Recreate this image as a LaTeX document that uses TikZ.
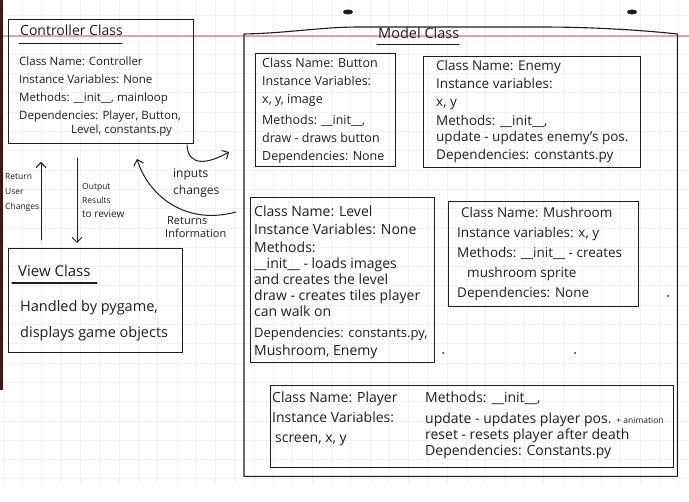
\documentclass[tikz,border=0pt]{standalone}
\usepackage{fontspec}
\setmainfont{Open Sans}
\usetikzlibrary{arrows.meta}

\definecolor{ink}{HTML}{1E1E1E}
\definecolor{gridline}{HTML}{F2F2F5}
\definecolor{marginline}{HTML}{DDA4B6}
\definecolor{binding}{HTML}{3B1A14}

\newcommand{\fs}[2]{\fontsize{#1}{#2}\selectfont}

\begin{document}
\begin{tikzpicture}[x=1pt,y=-1pt,
  box/.style={draw=ink,line width=1.1pt,inner sep=0pt,anchor=north west},
  txt/.style={text=ink,align=left,anchor=north west,inner sep=0pt},
  pen/.style={draw=ink,line width=1pt,line cap=round,line join=round},
  rule/.style={draw=ink,line width=1.3pt,line cap=round},
  tip/.style={-{Straight Barb[length=5pt,width=10pt]}}
]
\useasboundingbox (0,0) rectangle (689,502);
\fill[white] (0,0) rectangle (689,502);

% grid paper
\foreach \i in {0,...,35} {\draw[gridline,line width=0.4pt] ({3+19.3*\i},0) -- ({3+19.3*\i},485);}
\foreach \j in {0,...,24} {\draw[gridline,line width=0.4pt] (0,{15.5+19.3*\j}) -- (689,{15.5+19.3*\j});}
\draw[draw=marginline,line width=1.2pt] (0,36) -- (689,36);
\fill[binding] (0,0) rectangle (3,390);
\fill[ink] (348,12) ellipse [x radius=5, y radius=2.5];
\fill[ink] (632,12) ellipse [x radius=5, y radius=2.5];
\fill[ink] (668,296) circle (1);
\fill[ink] (443,353) circle (1);
\fill[ink] (575,353) circle (1);

% Controller class
\node[box,minimum width=185pt,minimum height=124pt] (ctrl) at (8,19) {};
\node[txt,font=\fs{14}{16}] (ctrltitle) at (20,25) {Controller Class};
\draw[rule] (19,43.5) -- (122,43.5);
\node[txt,font=\fs{11.5}{18}] (ctrltxt) at (19,57) {Class Name: Controller\\Instance Variables: None\\Methods: \_\_init\_\_, mainloop\\Dependencies: Player, Button,\\[-4pt]\hspace*{52pt}Level, constants.py};

% View class
\node[box,minimum width=174pt,minimum height=104pt] (view) at (8,248) {};
\node[txt,font=\fs{15}{17}] (viewtitle) at (18,265) {View Class};
\draw[rule] (12,283) -- (97,283);
\node[txt,font=\fs{14.5}{26}] (viewtxt) at (20,300) {Handled by pygame,\\displays game objects};

% arrows between Controller and View
\coordinate (upfrom) at (41,240);
\coordinate (upto) at (41,162);
\draw[pen,tip] (upfrom) -- (upto);
\node[txt,font=\fs{8.5}{15}] (uplabel) at (5,173) {Return\\User\\Changes};
\coordinate (downfrom) at (77,158);
\coordinate (downto) at (77,243);
\draw[pen,tip] (downfrom) -- (downto);
\node[txt,font=\fs{8.5}{14}] (downlabel) at (82,183) {Output\\Results\\{\fs{10}{12}to review}};

% arrows between Controller and Model
\coordinate (infrom) at (187,145);
\coordinate (into) at (229,152);
\draw[pen,tip] (infrom) .. controls (188,168) and (210,163) .. (into);
\node[txt,font=\fs{12}{17}] (inlabel) at (173,168) {inputs\\changes};
\coordinate (retfrom) at (236,212);
\coordinate (retto) at (137,159);
\draw[pen,tip] (retfrom) .. controls (185,226) and (148,195) .. (retto);
\node[txt,font=\fs{11}{13}] (retlabel) at (165,216) {\hspace*{2pt}Returns\\Information};

% Model class frame with a wavy top edge
\node[inner sep=0pt,minimum width=433pt,minimum height=442pt,anchor=north west] (model) at (244,34) {};
\draw[pen,line width=1.1pt] (model.north west) .. controls (290,33) and (320,27) .. (360,27)
  -- (540,27) .. controls (600,27) and (650,31) .. (model.north east)
  -- (model.south east) -- (model.south west) -- cycle;
\node[txt,font=\fs{14.5}{16}] (modeltitle) at (378,27) {Model Class};
\draw[rule] (377,44.5) -- (459,44.5);

% Button
\node[box,minimum width=140pt,minimum height=113pt] (button) at (255,53) {};
\node[txt,font=\fs{12.5}{18}] (buttontxt) at (262,58) {Class Name: Button\\Instance Variables:\\x, y, image\\[3pt]Methods: \_\_init\_\_,\\draw - draws button\\Dependencies: None};

% Enemy
\node[box,minimum width=217pt,minimum height=111pt] (enemy) at (423,56) {};
\node[txt,font=\fs{13.5}{18}] (enemytxt) at (436,60) {Class Name: Enemy\\Instance variables:\\x, y\\[1pt]Methods: \_\_init\_\_,\\[-2pt]update - updates enemy's pos.\\Dependencies: constants.py};

% Level
\node[box,minimum width=184pt,minimum height=165pt] (level) at (250,197) {};
\node[txt,font=\fs{14}{16}] (leveltxt) at (254,206) {Class Name: Level\\[2pt]Instance Variables: None\\[2pt]Methods:\\\_\_init\_\_ - loads images\\and creates the level\\draw - creates tiles player\\can walk on\\[5pt]{\fs{13}{16}Dependencies: constants.py,}\\[2pt]Mushroom, Enemy};

% Mushroom
\node[box,minimum width=190pt,minimum height=105pt] (mushroom) at (448,201) {};
\node[txt,font=\fs{13.5}{20}] (mushroomtxt) at (457,207) {\hspace*{4pt}Class Name: Mushroom\\Instance variables: x, y\\Methods: \_\_init\_\_ - creates\\\hspace*{10pt}mushroom sprite\\Dependencies: None};

% Player
\node[box,minimum width=403pt,minimum height=82pt] (player) at (270,385) {};
\node[txt,font=\fs{14}{20}] (playerleft) at (272,392) {Class Name: Player\\Instance Variables:\\\hspace*{3pt}screen, x, y};
\node[txt,font=\fs{14}{16}] (playerright) at (425,392) {Methods: \_\_init\_\_,\\[5pt]update - updates player pos. {\fs{8.5}{9}+ animation}\\reset - resets player after death\\Dependencies: Constants.py};

\end{tikzpicture}
\end{document}
